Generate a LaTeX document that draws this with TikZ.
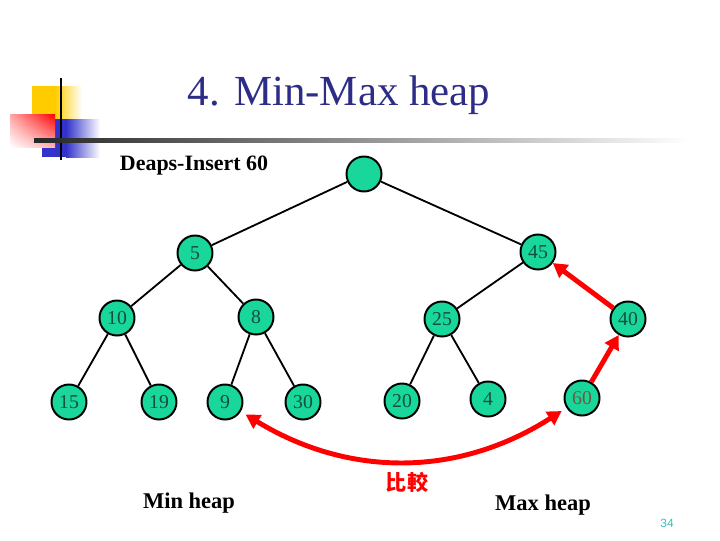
\documentclass[tikz,border=0pt]{standalone}
\usepackage{fontspec}
\setmainfont{Liberation Serif}
\newfontfamily\cjkfont{Noto Sans CJK TC}
\newfontfamily\pagefont{Liberation Sans}
\usetikzlibrary{arrows.meta,shadings}
\definecolor{heapgreen}{RGB}{25,214,155}
\definecolor{numgreen}{RGB}{20,80,60}
\definecolor{numbrown}{RGB}{110,90,60}
\definecolor{titleblue}{RGB}{45,45,135}
\definecolor{logoyellow}{RGB}{255,204,0}
\definecolor{logoblue}{RGB}{51,51,204}
\definecolor{pagecyan}{RGB}{60,190,190}

\begin{document}
\begin{tikzpicture}[x=0.025cm,y=-0.025cm,
    heapnode/.style={circle,draw=black,line width=1.4pt,fill=heapgreen,minimum size=0.875cm,
        inner sep=0pt,text=numgreen,font=\fontsize{14}{16}\selectfont},
    treeedge/.style={line width=1.3pt},
    swaparrow/.style={red,line width=3.5pt,-{Triangle[length=10pt,width=11pt]}}]
    \useasboundingbox (0,0) rectangle (720,540);

    % 标志
    \fill[logoyellow] (32,86) rectangle (55,120);
    \shade[left color=logoyellow,right color=white] (55,86) rectangle (82,120);
    \fill[logoblue] (42,119) rectangle (66,157);
    \shade[left color=logoblue,right color=white] (66,119) rectangle (100,157);
    \shade[upper right=red,upper left=red!35,lower right=red!30,lower left=white] (10,114) rectangle (55,147);
    \draw[line width=2pt] (61,78) -- (61,160);
    \shade[left color=black!85,right color=white] (34,138.5) rectangle (690,142.5);

    % 标题
    \node[anchor=base,text=titleblue,font=\fontsize{30.5}{34}\selectfont] (title) at (339,105) {4. Min-Max heap};
    \node[anchor=base,font=\bfseries\fontsize{15.6}{18}\selectfont] (insert) at (194,170) {Deaps-Insert 60};

    % 节点
    \foreach \name/\x/\y/\val in {root/364/174/{}, n5/195/253/5, n45/538/252/45,
        n10/117/318/10, n8/256/317/8, n25/442/319/25, n40/628/319/40,
        n15/69/402/15, n19/159/402/19, n9/225/402/9, n30/303/402/30,
        n20/402/401/20, n4/488/399/4} {
        \node[heapnode] (\name) at (\x,\y) {\val};
    }
    \node[heapnode,text=numbrown] (n60) at (582,398) {60};

    % 边
    \draw[treeedge] (root) -- (n5) (root) -- (n45);
    \draw[treeedge] (n5) -- (n10) (n5) -- (n8) (n45) -- (n25);
    \draw[treeedge] (n10) -- (n15) (n10) -- (n19) (n8) -- (n9) (n8) -- (n30);
    \draw[treeedge] (n25) -- (n20) (n25) -- (n4);

    % 交换与比较
    \draw[swaparrow] (n40) -- (n45);
    \draw[swaparrow] (n60) -- (n40);
    \draw[swaparrow,{Triangle[length=10pt,width=11pt]}-{Triangle[length=10pt,width=11pt]},
        shorten <=4pt,shorten >=4pt] (n9) to[bend right=32] (n60);
    \node[text=red,font=\cjkfont\bfseries\fontsize{15}{17}\selectfont] (cmp) at (407,482) {比較};

    % 标注
    \node[anchor=base,font=\bfseries\fontsize{16}{18}\selectfont] (minheap) at (189,508) {Min heap};
    \node[anchor=base,font=\bfseries\fontsize{16}{18}\selectfont] (maxheap) at (543,510) {Max heap};
    \node[text=pagecyan,font=\pagefont\fontsize{8.5}{10}\selectfont] (page) at (667,523) {34};
\end{tikzpicture}
\end{document}
